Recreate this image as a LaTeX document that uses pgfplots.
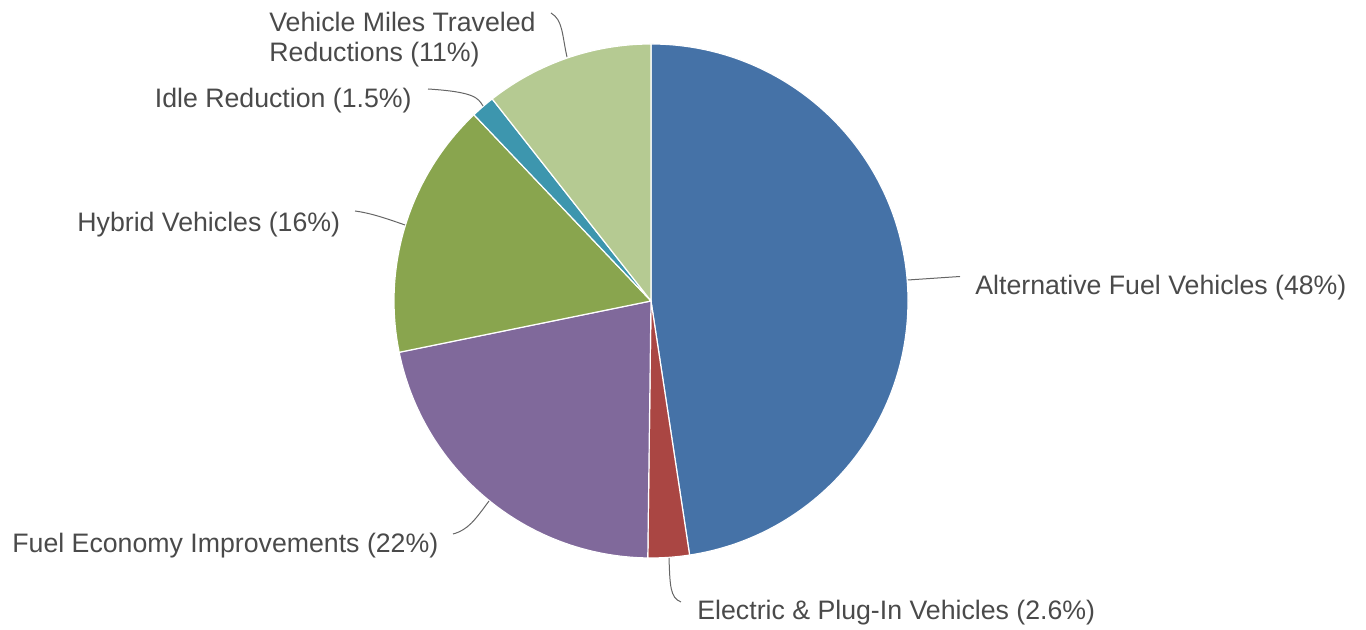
\documentclass[border=0pt]{standalone}
\usepackage{pgfplots}
\pgfplotsset{compat=1.18}
\usepackage{fontspec}
\setmainfont{Liberation Sans}
\definecolor{cA}{HTML}{4572A7}
\definecolor{cB}{HTML}{AA4643}
\definecolor{cC}{HTML}{80699B}
\definecolor{cD}{HTML}{89A54E}
\definecolor{cE}{HTML}{3D96AE}
\definecolor{cF}{HTML}{B5CA92}
\definecolor{txt}{HTML}{4A4A4A}
\definecolor{conn}{HTML}{666666}
\begin{document}
\begin{tikzpicture}
\begin{axis}[
  scale only axis, width=683bp, height=315bp,
  xmin=0, xmax=1366, ymin=0, ymax=630,
  hide axis, clip=false,
]
% values (%): 47.6, 2.6, 21.6, 16.1, 1.5, 10.6 ; angles = cumulative, clockwise from 90 deg (3.6 deg per %)
\addplot[draw=none] coordinates {(0,0) (1366,630)};
\fill[cA, draw=white, line width=0.6bp] (axis cs:651,329) -- ++(90:128.5bp) arc[start angle=90, end angle=-81.36, radius=128.5bp] -- cycle;
\fill[cB, draw=white, line width=0.6bp] (axis cs:651,329) -- ++(-81.36:128.5bp) arc[start angle=-81.36, end angle=-90.72, radius=128.5bp] -- cycle;
\fill[cC, draw=white, line width=0.6bp] (axis cs:651,329) -- ++(-90.72:128.5bp) arc[start angle=-90.72, end angle=-168.48, radius=128.5bp] -- cycle;
\fill[cD, draw=white, line width=0.6bp] (axis cs:651,329) -- ++(-168.48:128.5bp) arc[start angle=-168.48, end angle=-226.44, radius=128.5bp] -- cycle;
\fill[cE, draw=white, line width=0.6bp] (axis cs:651,329) -- ++(-226.44:128.5bp) arc[start angle=-226.44, end angle=-231.84, radius=128.5bp] -- cycle;
\fill[cF, draw=white, line width=0.6bp] (axis cs:651,329) -- ++(-231.84:128.5bp) arc[start angle=-231.84, end angle=-270, radius=128.5bp] -- cycle;
% connectors
\draw[conn, line width=0.5bp] (axis cs:908,350) -- (axis cs:960,353.5);
\draw[conn, line width=0.5bp] (axis cs:669,72) .. controls (axis cs:670,45) and (axis cs:670,32) .. (axis cs:681,28);
\draw[conn, line width=0.5bp] (axis cs:489,129) .. controls (axis cs:475,110) and (axis cs:468,100) .. (axis cs:453,96);
\draw[conn, line width=0.5bp] (axis cs:405,405) .. controls (axis cs:385,412) and (axis cs:370,417) .. (axis cs:355,419);
\draw[conn, line width=0.5bp] (axis cs:483,524) .. controls (axis cs:478,532) and (axis cs:475,538) .. (axis cs:428,541);
\draw[conn, line width=0.5bp] (axis cs:567,573) .. controls (axis cs:562,595) and (axis cs:563,610) .. (axis cs:551,617);
% labels
\begin{scope}[every node/.style={text=txt, font=\fontsize{13.35bp}{15.5bp}\selectfont, inner sep=0pt}]
\node[anchor=base west] at (axis cs:975,335) {Alternative Fuel Vehicles (48\%)};
\node[anchor=base west] at (axis cs:697,10) {Electric \& Plug-In Vehicles (2.6\%)};
\node[anchor=base west] at (axis cs:12,77.5) {Fuel Economy Improvements (22\%)};
\node[anchor=base west] at (axis cs:77,398.5) {Hybrid Vehicles (16\%)};
\node[anchor=base east] at (axis cs:412,522) {Idle Reduction (1.5\%)};
\node[anchor=base west] at (axis cs:269,598) {Vehicle Miles Traveled};
\node[anchor=base west] at (axis cs:269,568) {Reductions (11\%)};
\end{scope}
\end{axis}
\end{tikzpicture}
\end{document}
